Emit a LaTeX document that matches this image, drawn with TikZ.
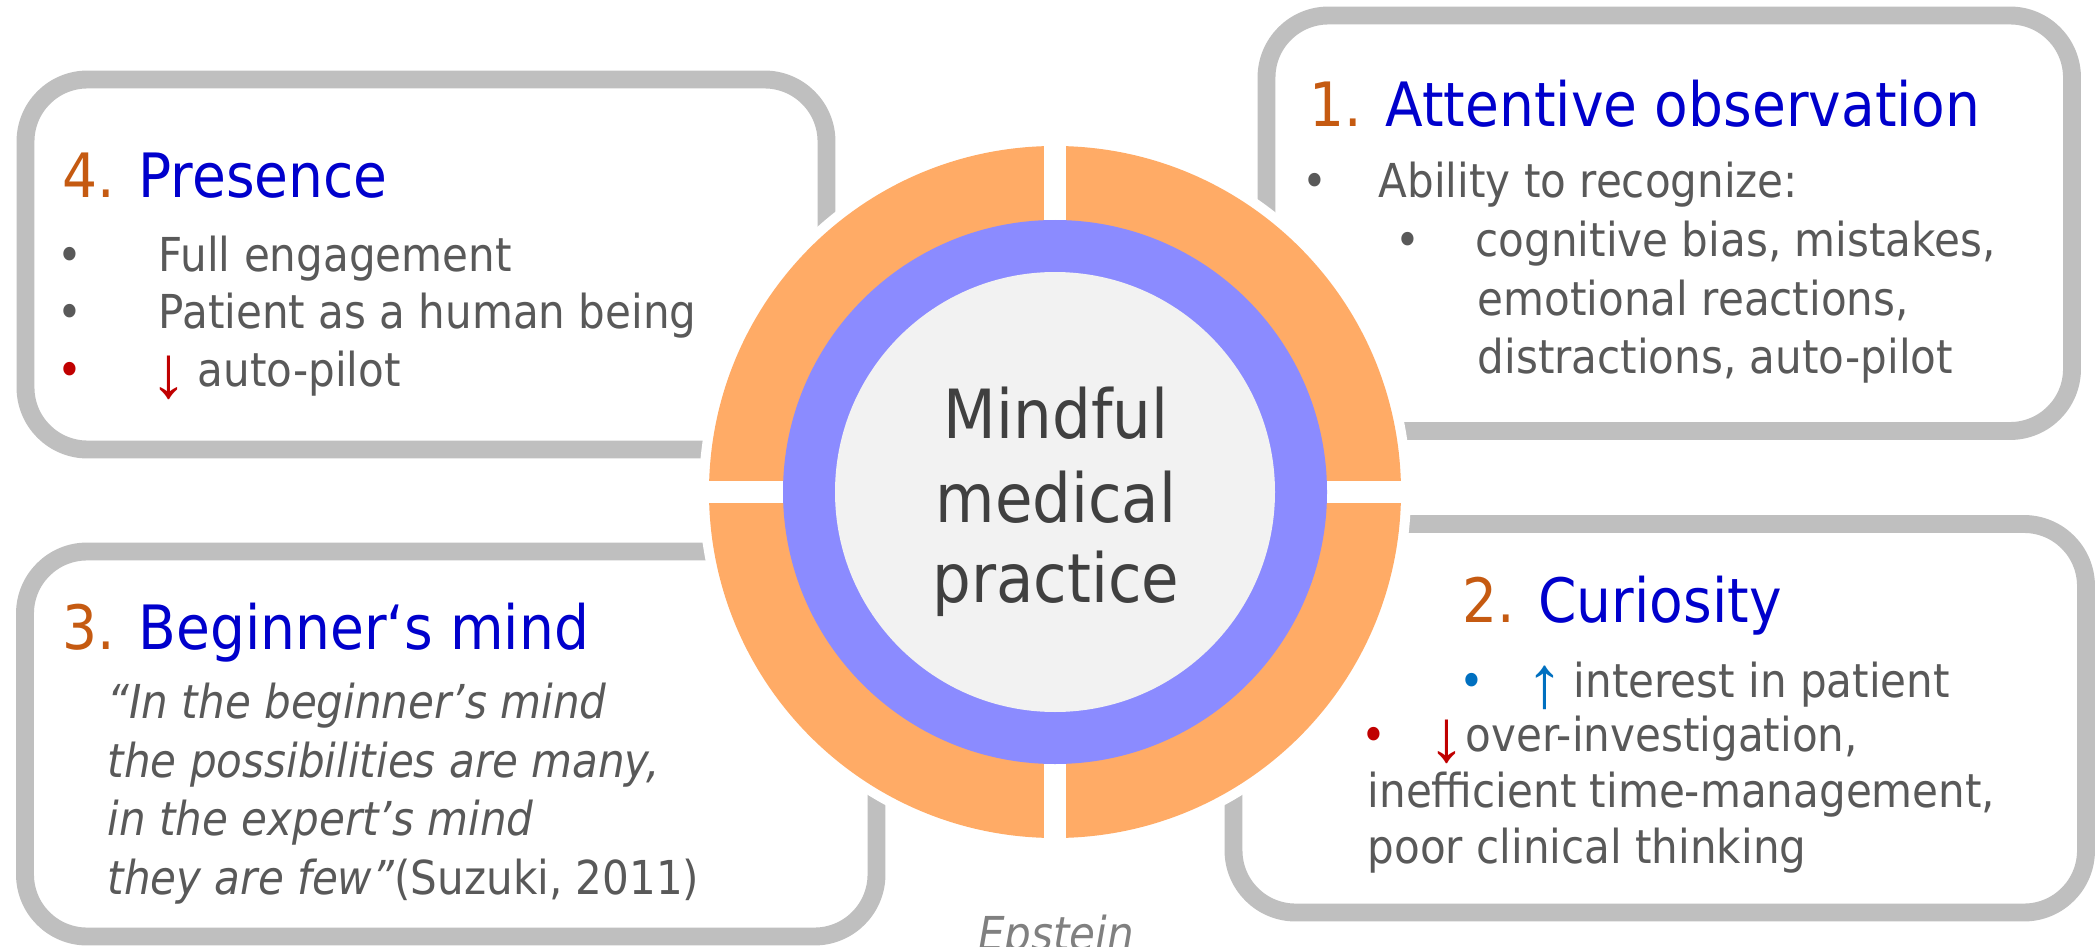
\documentclass[tikz,border=0pt]{standalone}
\usepackage{fontspec}
\setmainfont{DejaVu Sans}[FakeStretch=0.9]
\newfontfamily\arrowfont{Liberation Sans}
\usepackage{tikz}

\definecolor{boxgray}{HTML}{BFBFBF}
\definecolor{txtgray}{HTML}{595959}
\definecolor{numorange}{HTML}{C55A11}
\definecolor{titleblue}{HTML}{0000CC}
\definecolor{ringorange}{HTML}{FFAB66}
\definecolor{ringpurple}{HTML}{8B8BFF}
\definecolor{coregray}{HTML}{F2F2F2}
\definecolor{downred}{HTML}{C00000}
\definecolor{upblue}{HTML}{0070C0}

\tikzset{
  panel/.style={draw=boxgray, line width=5.1pt, fill=white, rounded corners=0.62cm},
  body/.style={anchor=base west, inner sep=0pt, text=txtgray, font=\fontsize{13.3}{16}\selectfont},
  dot/.style={body, anchor=base},
  updown/.style={anchor=base, inner sep=0pt, yshift=-0.1cm, font=\arrowfont\fontsize{21}{24}\selectfont},
  head/.style={anchor=base west, inner sep=0pt, font=\fontsize{17.4}{21}\selectfont},
  core/.style={anchor=base, inner sep=0pt, text=black!75, font=\fontsize{19.3}{23}\selectfont},
}
\newcommand{\num}[1]{{\color{numorange}#1}}

\begin{document}
\begin{tikzpicture}
\useasboundingbox (0,0) rectangle (20.98,9.46);

% the four panels
\draw[panel] (0.255,8.665) rectangle (8.265,4.965);
\draw[panel] (12.665,9.305) rectangle (20.72,5.15);
\draw[panel] (0.25,3.945) rectangle (8.765,0.095);
\draw[panel] (12.335,4.22) rectangle (20.86,0.335);

% rings in the middle
\fill[white] (10.55,4.54) circle (3.56);
\fill[ringorange] (10.55,4.54) circle (3.46);
\fill[white] (10.44,0.98) rectangle (10.66,8.10);
\fill[white] (6.99,4.43) rectangle (14.11,4.65);
\fill[ringpurple] (10.55,4.54) circle (2.72);
\fill[coregray] (10.55,4.54) circle (2.20);

\node[core] (mindful) at (10.56,5.07) {Mindful};
\node[core] (medical) at (10.56,4.24) {medical};
\node[core] (practice) at (10.56,3.44) {practice};

% 4. Presence
\node[head] (presence) at (0.62,7.48) {\num{4.} \color{titleblue}Presence};
\node[dot] (pdot1) at (0.70,6.74) {•};
\node[dot] (pdot2) at (0.70,6.18) {•};
\node[dot, text=downred] (pdot3) at (0.70,5.59) {•};
\node[body] (pline1) at (1.58,6.74) {Full engagement};
\node[body] (pline2) at (1.58,6.18) {Patient as a human being};
\node[updown, text=downred] (pdown) at (1.69,5.59) {↓};
\node[body] (pline3) at (1.97,5.59) {auto-pilot};

% 1. Attentive observation
\node[head] (attentive) at (13.09,8.19) {\num{1.} \color{titleblue}Attentive observation};
\node[dot] (adot1) at (13.15,7.48) {•};
\node[body] (aline1) at (13.78,7.48) {Ability to recognize:};
\node[dot] (adot2) at (14.08,6.89) {•};
\node[body] (aline2) at (14.75,6.89) {cognitive bias, mistakes,};
\node[body] (aline3) at (14.77,6.30) {emotional reactions,};
\node[body] (aline4) at (14.77,5.73) {distractions, auto-pilot};

% 3. Beginner's mind
\node[head] (beginner) at (0.62,2.97) {\num{3.} \color{titleblue}Beginner‘s mind};
\node[body] (bline1) at (1.07,2.28) {\itshape “In the beginner’s mind};
\node[body] (bline2) at (1.07,1.69) {\itshape the possibilities are many,};
\node[body] (bline3) at (1.07,1.11) {\itshape in the expert’s mind};
\node[body] (bline4) at (1.07,0.52) {\textit{they are few”}(Suzuki, 2011)};

% 2. Curiosity
\node[head] (curiosity) at (14.62,3.24) {\num{2.} \color{titleblue}Curiosity};
\node[dot, text=upblue] (cdot1) at (14.72,2.49) {•};
\node[updown, text=upblue] (cup) at (15.45,2.49) {↑};
\node[body] (cline1) at (15.73,2.49) {interest in patient};
\node[dot, text=downred] (cdot2) at (13.74,1.95) {•};
\node[updown, text=downred] (cdown) at (14.47,1.95) {↓};
\node[body] (cline2) at (14.65,1.95) {over-investigation,};
\node[body] (cline3) at (13.67,1.39) {inefficient time-management,};
\node[body] (cline4) at (13.67,0.83) {poor clinical thinking};

\node[body, anchor=base, text=black!50, font=\fontsize{13.3}{16}\selectfont\itshape] (epstein) at (10.56,-0.04) {Epstein};
\end{tikzpicture}
\end{document}
